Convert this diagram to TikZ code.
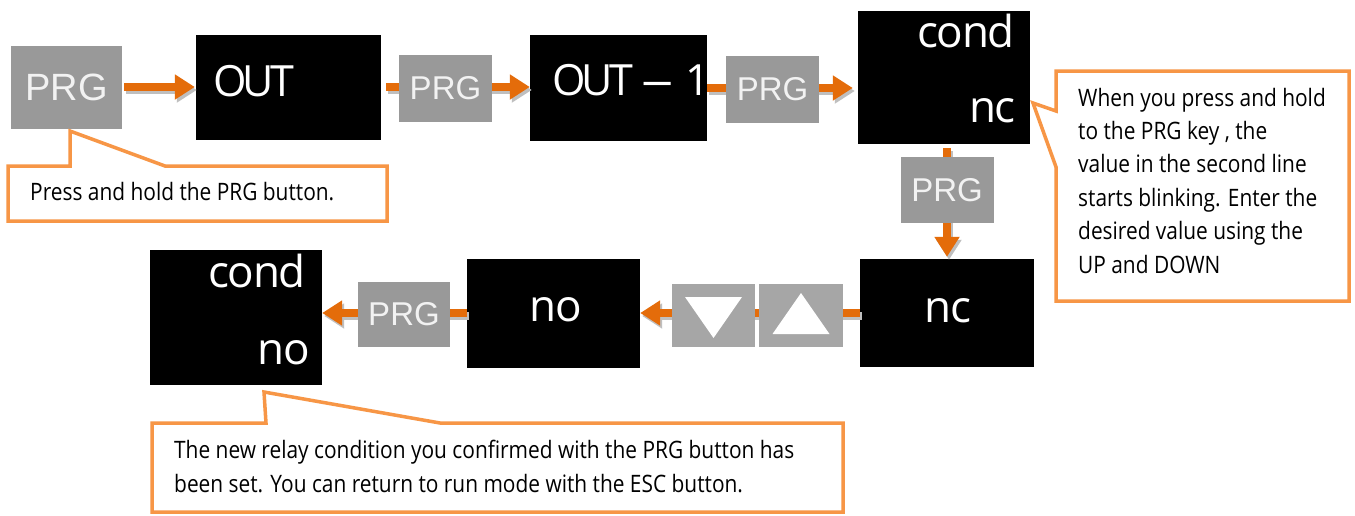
\documentclass[tikz,border=0pt]{standalone}
\usepackage{graphicx}
\usepackage{fontspec}
\setmainfont{Open Sans}
\newfontfamily\keyfont{Liberation Sans}
\newfontfamily\lcdfont{Open Sans}[LetterSpace=-9]
\newfontfamily\lcdlowfont{Open Sans}[LetterSpace=-3]
\newfontfamily\notefont{Open Sans}[FakeStretch=0.87]
\usetikzlibrary{arrows.meta,calc}
\definecolor{flowor}{HTML}{E46C0A}
\definecolor{noteor}{HTML}{F79646}
\definecolor{keygray}{HTML}{999999}
\definecolor{arrowkey}{HTML}{A6A6A6}
\definecolor{shade}{HTML}{BFBFBF}
\definecolor{keytext}{HTML}{F2F2F2}
\tikzset{
  screen/.style={rectangle, fill=black, draw=none, inner sep=0pt},
  key/.style={rectangle, fill=keygray, draw=none, inner sep=0pt, text=keytext,
    font=\keyfont\fontsize{33}{33}\selectfont, minimum width=93pt, minimum height=67pt},
  lcd/.style={text=white, inner sep=0pt, font=\lcdfont\fontsize{43}{43}\selectfont},
  lcdlow/.style={lcd, font=\lcdlowfont\fontsize{44}{44}\selectfont},
  flow/.style={draw=flowor, line width=8pt, -{Triangle[length=20pt,width=24pt]}},
  flowshade/.style={flow, draw=shade, transform canvas={shift={(2pt,-3pt)}}},
  note/.style={draw=noteor, line width=3.5pt, fill=white, line join=miter},
  notetext/.style={inner sep=0pt, anchor=base west, font=\notefont\fontsize{24}{24}\selectfont}
}
\begin{document}
\begin{tikzpicture}[x=1pt,y=-1pt]
\useasboundingbox (0,0) rectangle (1355,515);
\fill[white] (0,0) rectangle (1355,515);

% first key and the display screens
\node[key, minimum width=111pt, minimum height=83pt,
      font=\keyfont\fontsize{38}{38}\selectfont] (prgA) at (66.5,87) {PRG};
\node[screen, minimum width=185pt, minimum height=105pt] (out) at (288.5,87) {};
\node[screen, minimum width=177pt, minimum height=106pt] (outone) at (618.5,88) {};
\node[screen, minimum width=172pt, minimum height=133pt] (condA) at (944,77.5) {};
\node[screen, minimum width=174pt, minimum height=108pt] (ncA) at (947,313) {};
\node[screen, minimum width=173pt, minimum height=109pt] (noA) at (553.5,313) {};
\node[screen, minimum width=172pt, minimum height=135pt] (condB) at (236,317.5) {};

% flow arrows (shadow first)
\foreach \s in {flowshade,flow}{
  \draw[\s, shorten <=2pt, shorten >=1pt] (prgA.east) -- (prgA.east -| out.west);
  \draw[\s, shorten <=5pt] (out.east) -- (out.east -| outone.west);
  \draw[\s, shorten >=5pt] (outone.east) -- (outone.east -| condA.west);
  \draw[\s, shorten <=4pt, shorten >=2pt] (condA.south -| ncA.north) -- (ncA.north);
  \draw[\s] (ncA.west) -- (ncA.west -| noA.east);
  \draw[\s] (noA.west) -- (noA.west -| condB.east);
}

% display texts
\node[lcd, anchor=base west] (outtxt) at (213,96) {OUT};
\node[lcd, anchor=base west] (outonetxt) at (552,95)
  {OUT\hspace{8pt}\scalebox{1.5}[1]{–}\hspace{12pt}1};
\node[lcdlow, anchor=base east] (condAtop) at (1015,47) {cond};
\node[lcdlow, anchor=base east] (condAbot) at (1016,122) {nc};
\node[lcdlow, anchor=base] (nctxt) at (948,322) {nc};
\node[lcdlow, anchor=base] (notxt) at (556,321) {no};
\node[lcdlow, anchor=base east] (condBtop) at (306,287) {cond};
\node[lcdlow, anchor=base east] (condBbot) at (310,364) {no};

% keys lying on the arrows
\node[key] (prgB) at (445.5,88.5) {PRG};
\node[key] (prgC) at (772.5,89.5) {PRG};
\node[key, minimum height=66pt] (prgD) at (947,190) {PRG};
\node[key, fill=arrowkey, minimum width=83pt, minimum height=63pt] (down) at (713.5,315.5) {};
\node[key, fill=arrowkey, minimum width=84pt, minimum height=63pt] (up) at (801,315.5) {};
\node[key, minimum width=92pt, minimum height=65pt] (prgE) at (404,314) {PRG};
\fill[white] ($(down)+(-28.5,-18.5)$) -- ($(down)+(28.5,-18.5)$) -- ($(down)+(0,22.5)$) -- cycle;
\fill[white] ($(up)+(-28.5,18.5)$) -- ($(up)+(28.5,18.5)$) -- ($(up)+(0,-22.5)$) -- cycle;

% callouts
\draw[note] (8,166) -- (70,166) -- (70,131) -- (165,166) -- (387,166)
  -- (387,221) -- (8,221) -- cycle;
\node[notetext] (noteA) at (30,200) {Press and hold the PRG button.};

\draw[note] (1056,71) -- (1349,71) -- (1349,301) -- (1056,301) -- (1056,167)
  -- (1033,103) -- (1056,111) -- cycle;
\foreach \t [count=\i] in {When you press and hold, {to the PRG key , the},
  value in the second line, starts blinking. Enter the,
  desired value using the, UP and DOWN}
  \node[notetext] (noteB\i) at (1078,{72.7+33.4*\i}) {\t};

\draw[note] (152,423) -- (266,423) -- (264,392) -- (440,423) -- (843,423)
  -- (843,512) -- (152,512) -- cycle;
\node[notetext] (noteC1) at (174,458) {The new relay condition you confirmed with the PRG button has};
\node[notetext] (noteC2) at (174,492) {been set. You can return to run mode with the ESC button.};
\end{tikzpicture}
\end{document}
